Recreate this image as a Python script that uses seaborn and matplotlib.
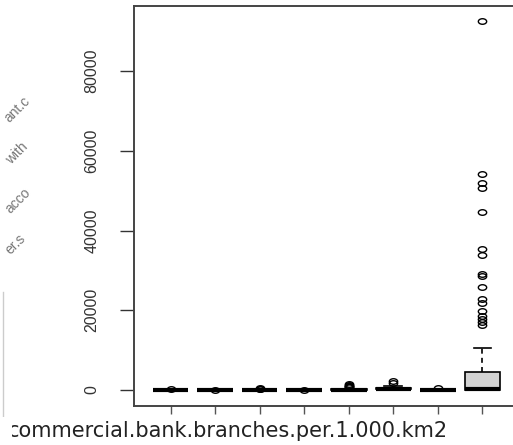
import numpy as np
import pandas as pd
import matplotlib
matplotlib.use("Agg")
import matplotlib.pyplot as plt
import seaborn as sns
from matplotlib.path import Path
from matplotlib.transforms import Affine2D
from matplotlib.patches import Rectangle
from matplotlib.lines import Line2D

# ---- data ----
groups = ["1", "2", "3", "4", "5", "6", "7", "8"]
g1 = [0, 0, 0, 0, 0, 0, 0, 1, 2, 3, 4, 5, 6, 8, 10, 12, 15, 18, 22, 160]
g2 = [0, 0, 0, 0, 0, 1, 1, 2, 3, 4, 5, 6, 7, 9, 11, 14, 17, 20, 25, 120]
g3 = [0, 0, 0, 0, 0, 0, 2, 4, 6, 8, 10, 14, 18, 22, 26, 30, 40, 50, 60, 250, 300, 380]
g4 = [0, 0, 0, 0, 0, 0, 0, 1, 2, 3, 4, 5, 6, 7, 9, 12, 15, 20, 110]
g5 = [0, 0, 0, 0, 0, 0, 10, 20, 30, 40, 50, 60, 70, 80, 90, 100, 120, 150, 200,
      700, 850, 950, 1050, 1250, 1500]
g6 = [10, 30, 60, 100, 150, 200, 220, 250, 280, 300, 350, 400, 450, 500, 520,
      600, 800, 1000, 1800, 2250]
g7 = [0, 0, 0, 0, 0, 0, 1, 2, 4, 6, 8, 10, 12, 15, 18, 22, 28, 35, 450]
g8 = [0, 0, 0, 0, 0, 0, 0, 0, 0, 0, 0, 0, 4, 9, 17, 22, 31, 38, 52, 61, 73, 85,
      100, 108, 124, 131, 139, 156, 163, 171, 184, 192, 205, 213, 226, 238, 243,
      257, 262, 274, 288, 295, 303, 318,
      350, 420, 480, 610, 690, 820, 870, 1010, 1180, 1420, 1560, 1830, 1970,
      2240, 2380, 2650, 2790, 3040, 3310, 3580, 3920, 4230,
      4400, 5100, 6200, 7400, 8900, 10500,
      16300, 17000, 17700, 18600, 19900, 21800, 22700, 25800, 28700, 29200,
      33800, 35300, 44700, 50600, 51900, 54100, 92500]
group_values = [g1, g2, g3, g4, g5, g6, g7, g8]
ytick_values = [0, 20000, 40000, 60000, 80000]
ytick_labels = ["0", "20000", "40000", "60000", "80000"]
xlabel_text = "commercial.bank.branches.per.1.000.km2"
side_fragments = ["ant.c", "with", "acco", "er.s"]

df = pd.DataFrame({
    "group": np.repeat(groups, [len(v) for v in group_values]),
    "value": np.concatenate([np.asarray(v, dtype=float) for v in group_values]),
})

plt.rcParams["font.family"] = ["Liberation Sans", "DejaVu Sans"]

W, H = 513, 445
fig = plt.figure(figsize=(W / 100, H / 100), dpi=100)
ax = fig.add_axes([134 / W, 1 - 406 / H, 385 / W, 400 / H])

ellipse = Path.unit_circle().transformed(Affine2D().scale(1.5, 1.0))

sns.boxplot(
    data=df, x="group", y="value", order=groups, ax=ax,
    color="#d3d3d3", saturation=1, width=0.8, linecolor="black",
    linewidth=1.2, whis=1.5, fliersize=6,
    whiskerprops=dict(linestyle=(0, (3, 2.5))),
    medianprops=dict(linewidth=3),
    flierprops=dict(marker=ellipse, markerfacecolor="none",
                    markeredgecolor="black", markersize=6,
                    markeredgewidth=1.0),
)

ax.set_xlim(-0.82, 7.82)
ax.set_ylim(-4012, 96301)
ax.set_xlabel("")
ax.set_ylabel("")
ax.set_xticks(range(len(groups)))
ax.set_xticklabels([""] * len(groups))
ax.set_yticks(ytick_values)
ax.set_yticklabels(ytick_labels, rotation=90, va="center")
ax.tick_params(axis="y", left=True, direction="out", length=10, width=1.0,
               color="#333333", pad=15, labelsize=11.5, labelcolor="#333333")
ax.tick_params(axis="x", bottom=True, direction="out", length=5.8, width=1.0,
               color="#555555")
ax.set_facecolor("white")
for name, s in ax.spines.items():
    s.set_visible(name != "right")
    s.set_color("#444444")
    s.set_linewidth(1.4)

# x label (partially cut at the left edge in the reference)
fig.text(448 / W, 1 - 437 / H, xlabel_text, ha="right", va="baseline",
         fontsize=15, family="DejaVu Sans", color="#222222")
fig.patches.append(Rectangle((0, 0), 12 / W, 28 / H, transform=fig.transFigure,
                             facecolor="white", edgecolor="none", zorder=10))

# fragments of the neighbouring panel on the left
frag_pos = [(31, 102), (29, 147), (31, 193), (26, 239)]
for txt, (px, py) in zip(side_fragments, frag_pos):
    fig.text(px / W, 1 - py / H, txt, rotation=45, rotation_mode="anchor",
             ha="right", va="baseline", fontsize=10, color="#777777")
fig.add_artist(Line2D([3 / W, 3 / W], [1 - 292 / H, 1 - 417 / H],
                      transform=fig.transFigure, color="#cccccc", lw=1.0))

fig.savefig("out.png", dpi=100, facecolor="white")
